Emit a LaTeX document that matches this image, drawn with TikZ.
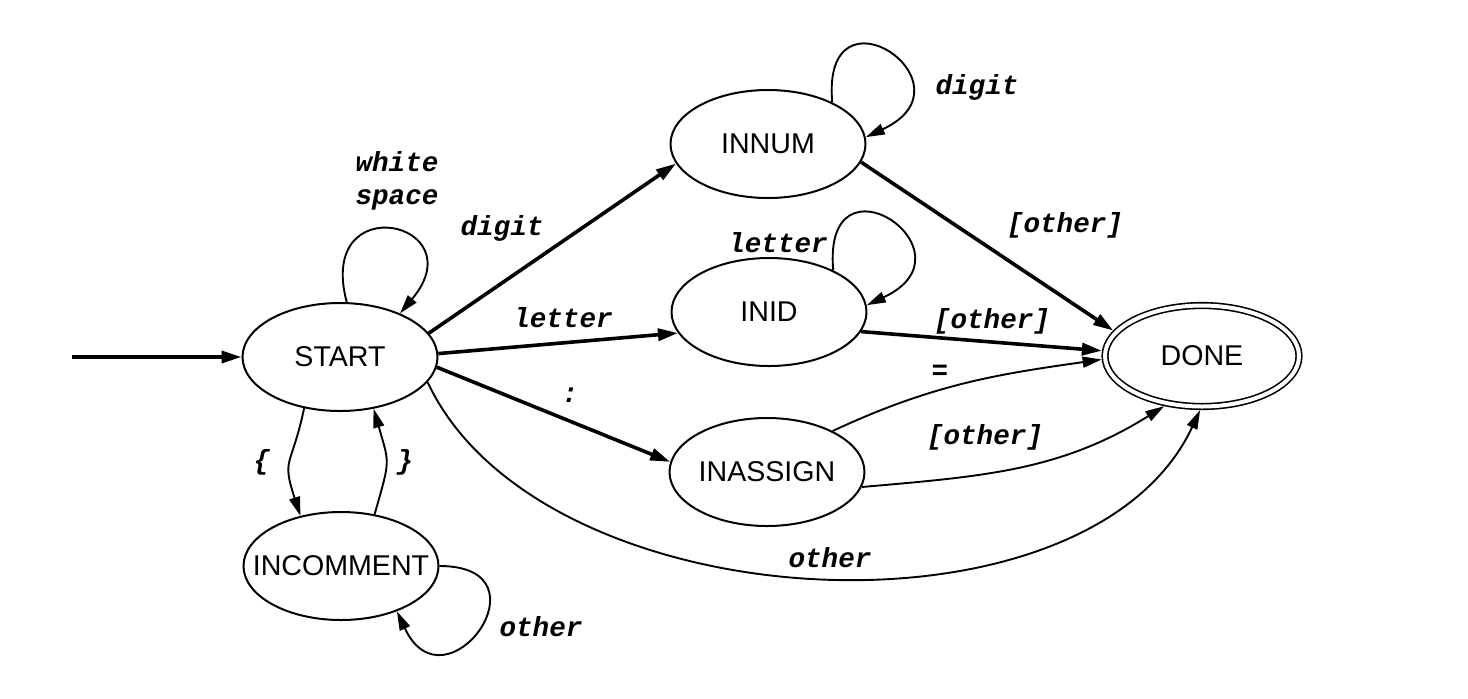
\documentclass[tikz,border=0pt]{standalone}
\usepackage{fontspec}
\setmainfont{Liberation Sans}
\newfontfamily\lblfont{Liberation Mono}
\usetikzlibrary{shapes.geometric,arrows.meta}
\begin{document}
\begin{tikzpicture}[x=0.5pt,y=-0.5pt,
  state/.style={ellipse,draw,line width=1pt,minimum width=97.5pt,minimum height=54pt,inner sep=0pt},
  stxt/.style={font=\fontsize{14.3}{16}\selectfont,inner sep=0pt},
  lbl/.style={font=\lblfont\bfseries\itshape\fontsize{13.8}{16.5}\selectfont,inner sep=0pt,align=center},
  tarr/.style={line width=0.95pt,-{Triangle[length=9.5pt,width=5.5pt]}},
  karr/.style={line width=1.8pt,-{Triangle[length=10pt,width=6pt]}}]
\useasboundingbox (0,0) rectangle (1468,698);
\fill[white] (0,0) rectangle (1468,698);

% states
\node[state,label={[stxt]center:START}] (start) at (340,357) {};
\node[state,label={[stxt]center:INNUM}] (innum) at (768,144) {};
\node[state,label={[stxt]center:INID}] (inid) at (769,312) {};
\node[state,label={[stxt]center:INASSIGN}] (inassign) at (767,472) {};
\node[state,label={[stxt]center:INCOMMENT}] (incomment) at (341,566) {};
\node[state,double,double distance=2pt,line width=0.8pt,minimum width=97pt,minimum height=50.5pt,outer sep=1.8pt,label={[stxt]center:DONE}] (done) at (1202,356) {};

% initial arrow
\coordinate (init) at (72,357);
\draw[karr] (init) -- (start.west);

% thick transitions
\draw[karr] (start.15) -- (innum.192);
\draw[karr] (start.2) -- (inid.193);
\draw[karr] (start.354) -- (inassign.174);
\draw[karr] (innum.349) -- (done.164);
\draw[karr] (inid.348) -- (done.177);

% thin transitions
\draw[tarr] (inassign.32) to[out=25,in=188] (done.182);
\draw[tarr] (inassign.351) to[out=5,in=212] (done.233);
\draw[tarr] (start.344) to[out=-65,in=245,looseness=0.88] (done.268);
\draw[tarr] (start.83) to[out=105,in=50,distance=60pt] (start.36);
\draw[tarr] (innum.33) to[out=95,in=25,distance=63pt] (innum.4);
\draw[tarr] (inid.33) to[out=95,in=25,distance=63pt] (inid.4);
\draw[tarr] (incomment.0) to[out=0,in=295,distance=57pt] (incomment.321);
\draw[tarr] (start.235) to[out=258,in=108,distance=31pt] (incomment.129);
\draw[tarr] (incomment.57) to[out=74,in=286,distance=29pt] (start.303);

% labels
\node[lbl] (lws) at (397,181) {white\\space};
\node[lbl] (ldig1) at (502,228) {digit};
\node[lbl] (llet1) at (563,318) {letter};
\node[lbl] (lcol) at (570,395) {:};
\node[lbl] (ldig2) at (977,87) {digit};
\node[lbl] (loth1) at (1065,225) {[other]};
\node[lbl] (llet2) at (778,243) {letter};
\node[lbl] (loth2) at (992,321) {[other]};
\node[lbl] (leq) at (940,372) {=};
\node[lbl] (loth3) at (985,437) {[other]};
\node[lbl] (loth4) at (830,558) {other};
\node[lbl] (lob) at (262,462) {\{};
\node[lbl] (lcb) at (405,462) {\}};
\node[lbl] (loth5) at (541,627) {other};
\end{tikzpicture}
\end{document}
